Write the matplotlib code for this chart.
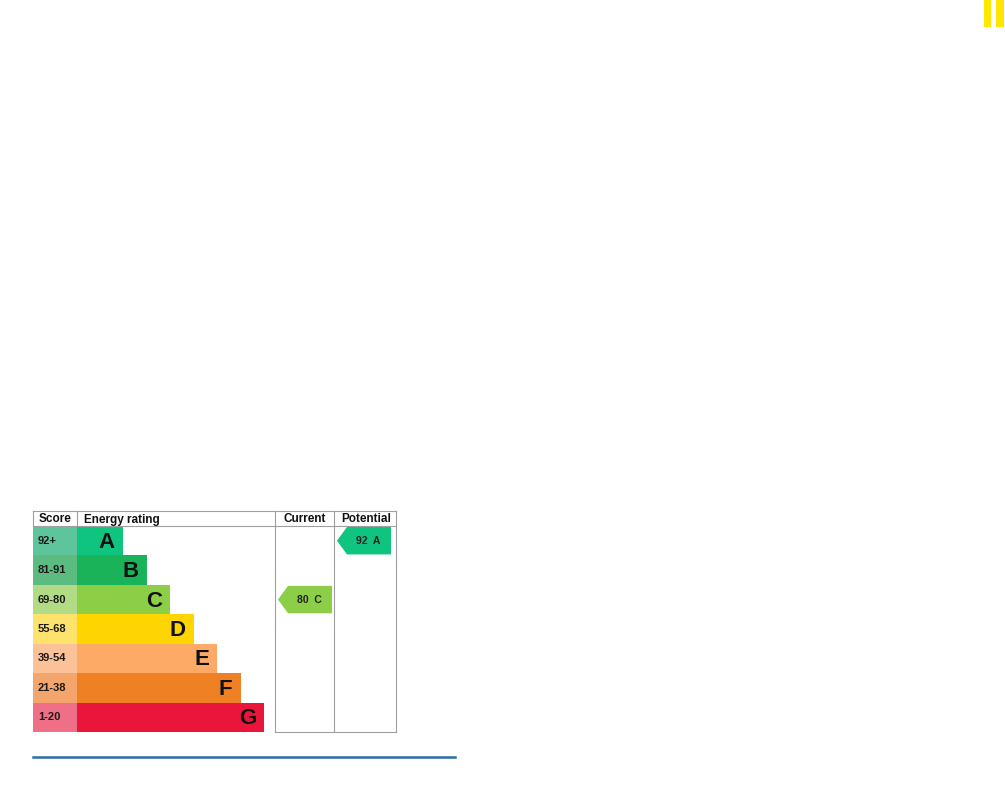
import matplotlib
matplotlib.use("Agg")
import matplotlib.pyplot as plt
from matplotlib.patches import Rectangle, Polygon

bands = ["A", "B", "C", "D", "E", "F", "G"]
scores = ["92+", "81-91", "69-80", "55-68", "39-54", "21-38", "1-20"]
current_value, current_band = 80, "C"
potential_value, potential_band = 92, "A"

bar_colors = ["#0fc47f", "#1bb35a", "#8cce46", "#ffd500", "#fcaa65", "#ef8023", "#e9153b"]
score_colors = ["#5ec49c", "#5cbb80", "#b2db86", "#fde36c", "#fbc298", "#f3a56b", "#ef6f87"]

W, H = 1005, 785
fig = plt.figure(figsize=(W/100, H/100), dpi=100)
ax = fig.add_axes([0, 0, 1, 1])
ax.set_xlim(0, W); ax.set_ylim(H, 0); ax.axis("off")

ax.add_patch(Rectangle((984, 0), 7, 27, color="#ffe600", lw=0))
ax.add_patch(Rectangle((996, 0), 8, 27, color="#ffe600", lw=0))

x0, xs, xe, xc, xp, x1 = 33, 77, 275, 334, 334, 396
top, head, bottom = 511, 526, 732
rh = (bottom - head) / len(bands)
grey = "#a0a0a0"

for i, (b, s) in enumerate(zip(bands, scores)):
    y = head + i * rh
    ax.add_patch(Rectangle((x0, y), xs - x0, rh, color=score_colors[i], lw=0))
    right = 123 + i * 23.5
    ax.add_patch(Rectangle((xs, y), right - xs, rh, color=bar_colors[i], lw=0))
    ax.text(x0 + 5, y + rh/2, s, fontsize=8, fontweight="bold", va="center", ha="left", color="#1a1a1a", family="Liberation Sans")
    ax.text(right - 8, y + rh/2 + 1.5, b, fontsize=16, fontweight="bold", va="center", ha="right", color="#111", family="Liberation Sans")

def arrow(xl, xr, band, val):
    i = bands.index(band)
    y = head + i * rh
    ax.add_patch(Polygon([(xl, y + rh/2), (xl + 10, y + 1), (xr, y + 1), (xr, y + rh - 1), (xl + 10, y + rh - 1)],
                         closed=True, color=bar_colors[i], lw=0))
    ax.text((xl + xr)/2 + 4, y + rh/2, f"{val}  {band}", fontsize=7.5, fontweight="bold",
            ha="center", va="center", color="#222", family="Liberation Sans")

arrow(278, 332, current_band, current_value)
arrow(337, 391, potential_band, potential_value)

lw = 0.8
for x in [x0, xs, xe, xp, x1]:
    ax.plot([x, x], [top, head if x in (x0, xs) else bottom], color=grey, lw=lw)
ax.plot([x0, x1], [top, top], color=grey, lw=lw)
ax.plot([x0, x1], [head, head], color=grey, lw=lw)
ax.plot([xe, x1], [bottom, bottom], color=grey, lw=lw)

hk = dict(fontsize=8.5, fontweight="bold", va="baseline", color="#111", family="Liberation Sans")
hy = 522.5
ax.text(55, hy, "Score", ha="center", **hk)
ax.text(84, hy, "Energy rating", ha="left", **hk)
ax.text(305, hy, "Current", ha="center", **hk)
ax.text(366, hy, "Potential", ha="center", **hk)

ax.plot([33, 455], [757, 757], color="#2a6ea6", lw=1.8)

fig.savefig("out.png", dpi=100)
